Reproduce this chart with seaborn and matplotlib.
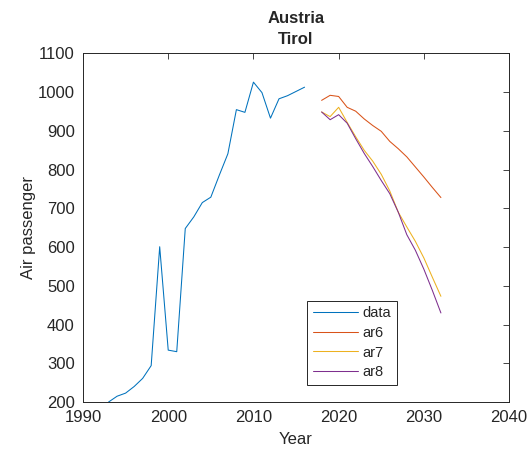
import matplotlib
matplotlib.use("Agg")
import matplotlib.pyplot as plt
import numpy as np
import pandas as pd
import seaborn as sns

# Historic air passenger counts
data_years = list(range(1993, 2017))
data_values = [200, 215, 223, 240, 261, 294, 601, 334, 330, 648, 678, 715,
               729, 786, 841, 955, 948, 1026, 999, 933, 983, 991, 1002, 1013]

# Autoregressive forecasts
fc_years = list(range(2018, 2033))
ar6_values = [979, 992, 989, 961, 951, 931, 914, 899, 873, 854, 833, 807, 781, 754, 728]
ar7_values = [949, 937, 961, 922, 885, 850, 822, 788, 745, 690, 652, 615, 572, 522, 473]
ar8_values = [949, 929, 942, 920, 880, 842, 808, 772, 738, 690, 632, 592, 543, 488, 430]

x_ticks = [1990, 2000, 2010, 2020, 2030, 2040]
y_ticks = list(range(200, 1101, 100))

frames = [pd.DataFrame({"Year": data_years, "value": data_values, "series": "data"})]
for name, vals in [("ar6", ar6_values), ("ar7", ar7_values), ("ar8", ar8_values)]:
    frames.append(pd.DataFrame({"Year": fc_years, "value": vals, "series": name}))
df = pd.concat(frames, ignore_index=True)

sns.set_style("white")
plt.rcParams["font.family"] = ["Liberation Sans", "DejaVu Sans"]

colors = {"data": (0, 0.447, 0.741), "ar6": (0.85, 0.325, 0.098),
          "ar7": (0.929, 0.694, 0.125), "ar8": (0.494, 0.184, 0.556)}
dark = (0.15, 0.15, 0.15)

fig = plt.figure(figsize=(5.27, 4.51), dpi=100)
ax = fig.add_axes([0.1575, 0.1086, 0.8085, 0.7728])

sns.lineplot(data=df, x="Year", y="value", hue="series", palette=colors,
             linewidth=0.75, ax=ax, estimator=None, sort=False)

ax.set_xlim(1990, 2040)
ax.set_ylim(200, 1100)
ax.set_xticks(x_ticks)
ax.set_yticks(y_ticks)
ax.tick_params(direction="in", length=4, width=0.6, colors=dark,
               labelsize=12, top=True, right=True, labelcolor=dark, pad=6)
for s in ax.spines.values():
    s.set_color(dark)
    s.set_linewidth(0.7)
    s.set_visible(True)

ax.set_xlabel("Year", fontsize=12, color=dark, labelpad=5)
ax.set_ylabel("Air passenger", fontsize=12, color=dark, labelpad=1)
ax.set_title("Austria\nTirol", fontsize=12, fontweight="bold", linespacing=1.45, pad=7)

handles, labels = ax.get_legend_handles_labels()
leg = ax.legend(handles, labels, loc="lower left", bbox_to_anchor=(0.525, 0.049),
                fontsize=10.5, frameon=True, fancybox=False, framealpha=1,
                edgecolor=dark, handlelength=3.1, handletextpad=0.3,
                borderpad=0.4, labelspacing=0.38, borderaxespad=0)
leg.get_frame().set_linewidth(0.7)

fig.savefig("out.png", dpi=100)
